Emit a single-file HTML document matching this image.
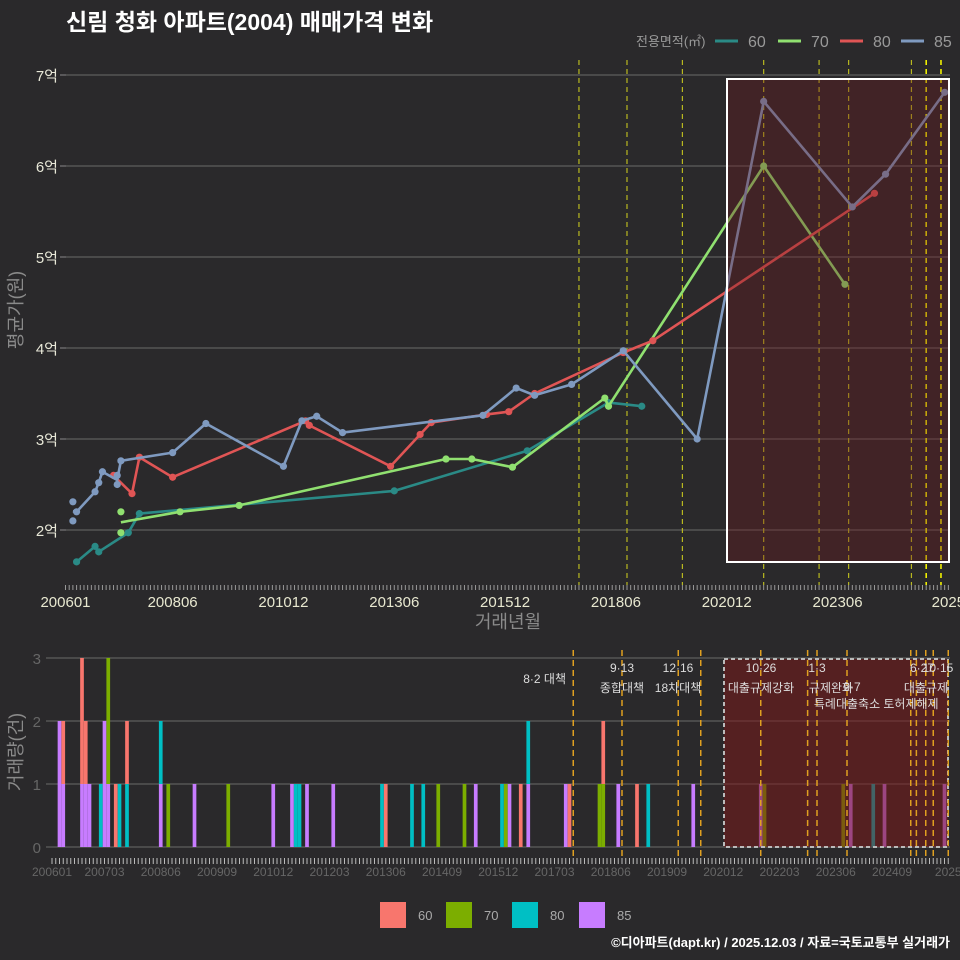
<!DOCTYPE html>
<html><head><meta charset="utf-8">
<style>
html,body{margin:0;padding:0;background:#2a292b;}
svg{display:block;font-family:"Liberation Sans","Noto Sans CJK KR",sans-serif;}
</style></head>
<body>
<svg id="chart" width="960" height="960" viewBox="0 0 960 960">
<rect x="0" y="0" width="960" height="960" fill="#2a292b"/>
<text x="66" y="30" font-size="23" font-weight="bold" fill="#ffffff">신림 청화 아파트(2004) 매매가격 변화</text>
<g id="legendTop">
<text x="636" y="46" font-size="13" fill="#999">전용면적(㎡)</text>
</g>
<g id="top"></g>
<g id="bottom"></g>
<g id="legendBottom"></g>
<text x="950" y="947" font-size="13" font-weight="bold" fill="#ffffff" text-anchor="end">©디아파트(dapt.kr) / 2025.12.03 / 자료=국토교통부 실거래가</text>
</svg>
<script>
// ---- price chart data (months since 2006-01, price in 억) ----
const s60Months=[3,8,9,17,20,89,125,147,156];
const s60Values=[1.65,1.82,1.76,1.97,2.18,2.43,2.87,3.4,3.36];
const s70Months=[15,15,31,47,103,110,121,146,147,189,211];
const s70Values=[2.2,1.97,2.2,2.27,2.78,2.78,2.69,3.45,3.36,6.0,4.7];
const s80Months=[13,18,20,29,65,66,88,96,99,114,120,127,151,159,219];
const s80Values=[2.6,2.4,2.8,2.58,3.2,3.15,2.7,3.05,3.18,3.27,3.3,3.5,3.95,4.08,5.7];
const s85Months=[2,2,3,8,9,10,14,14,15,29,38,59,64,68,75,113,122,127,137,151,171,189,213,222,238];
const s85Values=[2.31,2.10,2.2,2.42,2.52,2.64,2.6,2.5,2.76,2.85,3.17,2.7,3.2,3.25,3.07,3.26,3.56,3.48,3.6,3.97,3.0,6.71,5.55,5.91,6.81];
const seriesNames=["60","70","80","85"];
const yTicks=[2,3,4,5,6,7];
const yTickLabels=["2억","3억","4억","5억","6억","7억"];
const topXTicks=[0,29,59,89,119,149,179,209,239];
const topXLabels=["200601","200806","201012","201306","201512","201806","202012","202306","2025"];
const topPolicyMonths=[139,152,167,189,204,212,229,233,237];
// ---- volume chart data ----
const b60Months=[3,8,9,17,20,89,125,138,147,156];
const b60Counts=[1,2,1,1,1,1,1,1,1,1];
const b70Months=[15,31,47,103,110,121,146,147,190,211];
const b70Counts=[2,1,1,1,1,1,1,1,1,1];
const b80Months=[13,18,20,29,65,66,88,96,99,120,127,159,219];
const b80Counts=[1,1,1,1,1,1,1,1,1,1,1,1,1];
const b85Months=[2,3,8,9,10,14,15,29,38,59,64,68,75,113,122,127,137,151,171,189,213,222,238];
const b85Counts=[2,1,1,1,1,2,1,1,1,1,1,1,1,1,1,1,1,1,1,1,1,1,1];
const volYTicks=[0,1,2,3];
const botXTicks=[0,14,29,44,59,74,89,104,119,134,149,164,179,194,209,224,239];
const botXLabels=["200601","200703","200806","200909","201012","201203","201306","201409","201512","201703","201806","201909","202012","202203","202306","202409","2025"];
const botPolicyMonths=[139,152,167,173,189,201.5,204,212,229,230.5,233,235,239];

const NS="http://www.w3.org/2000/svg";
function mk(tag,attrs,parent,text){const e=document.createElementNS(NS,tag);for(const k in attrs)e.setAttribute(k,attrs[k]);if(text!==undefined)e.textContent=text;parent.appendChild(e);return e;}
const topG=document.getElementById('top');
const botG=document.getElementById('bottom');
const lineColors=["#2a8a86","#90e070","#e05555","#7f9ac0"];
const barColors=["#f8766d","#7cae00","#00bfc4","#c77cff"];

// axis functions
const tx=m=>65.5+m*3.694;
const ty=v=>530-(v-2)*91;
const bx=m=>52+m*3.75;
const by=c=>847-c*63;

// ---- top panel ----
yTicks.forEach((t,i)=>{
  let l=mk('line',{x1:66,x2:950,y1:ty(t),y2:ty(t),stroke:'#6a6a6a','stroke-width':1},topG);
  
  let k=mk('line',{x1:60,x2:66,y1:ty(t),y2:ty(t),stroke:'#888'},topG);
  
  let tt=mk('text',{x:58,y:ty(t)+6,'font-size':15,fill:'#e8e8d8','text-anchor':'end'},topG,yTickLabels[i]);
  
});
for(let m=0;m<=239;m++){
  let k=mk('line',{x1:tx(m),x2:tx(m),y1:585,y2:590,stroke:'#999','stroke-width':1},topG);
  
}
topXTicks.forEach((m,i)=>{
  let t=mk('text',{x:tx(m),y:607,'font-size':15,fill:'#e8e8d0','text-anchor':'middle'},topG,topXLabels[i]);
  
});
let xt=mk('text',{x:508,y:628,'font-size':18,fill:'#8a8a8a','text-anchor':'middle'},topG,'거래년월');

let yt=mk('text',{x:0,y:0,'font-size':18,fill:'#8a8a8a','text-anchor':'middle',transform:'translate(22,310) rotate(-90)'},topG,'평균가(원)');


topPolicyMonths.forEach((m,i)=>{
  const bright=i>=7;
  let l=mk('line',{x1:tx(m),x2:tx(m),y1:60,y2:585,stroke:bright?'#f0f000':'#b8b820','stroke-width':bright?1.6:1.2,'stroke-dasharray':'5,4'},topG);
  
});

const allM=[s60Months,s70Months,s80Months,s85Months];
const allV=[s60Values,s70Values,s80Values,s85Values];
allM.forEach((ms,si)=>{
  const vs=allV[si];
  const agg={};
  ms.forEach((m,i)=>{(agg[m]=agg[m]||[]).push(vs[i]);});
  const keys=Object.keys(agg).map(Number).sort((a,b)=>a-b);
  const pts=keys.map(k=>{const a=agg[k];return tx(k).toFixed(1)+','+ty(a.reduce((s,x)=>s+x,0)/a.length).toFixed(1);}).join(' ');
  let pl=mk('polyline',{points:pts,fill:'none',stroke:lineColors[si],'stroke-width':2.6,'stroke-linejoin':'round'},topG);
  
  ms.forEach((m,i)=>{
    let c=mk('circle',{cx:tx(m),cy:ty(vs[i]),r:3.6,fill:lineColors[si]},topG);
    
  });
});
let hr=mk('rect',{x:727,y:79,width:222,height:483,fill:'rgba(110,25,30,0.35)',stroke:'#ffffff','stroke-width':2},topG);


// top legend
const lg=document.getElementById('legendTop');
const legX=[715,778,840,901];
seriesNames.forEach((n,i)=>{
  let l=mk('line',{x1:legX[i],x2:legX[i]+23,y1:41,y2:41,stroke:lineColors[i],'stroke-width':3},lg);
  
  let t=mk('text',{x:legX[i]+33,y:47,'font-size':16,fill:'#999'},lg,n);
  
});

// ---- bottom panel ----
volYTicks.forEach(t=>{
  let l=mk('line',{x1:46,x2:950,y1:by(t),y2:by(t),stroke:'#6a6a6a','stroke-width':1},botG);
  
  let tt=mk('text',{x:41,y:by(t)+6,'font-size':15,fill:'#666','text-anchor':'end'},botG,String(t));
  
});
let vyt=mk('text',{x:0,y:0,'font-size':18,fill:'#8a8a8a','text-anchor':'middle',transform:'translate(22,752) rotate(-90)'},botG,'거래량(건)');


const stack={};
const bM=[b85Months,b80Months,b70Months,b60Months];
const bC=[b85Counts,b80Counts,b70Counts,b60Counts];
const bCol=[barColors[3],barColors[2],barColors[1],barColors[0]];
const bName=["85","80","70","60"];
bM.forEach((ms,si)=>{
  ms.forEach((m,i)=>{
    const base=stack[m]||0;const c=bC[si][i];
    let r=mk('rect',{x:bx(m)-1.85,y:by(base+c),width:3.7,height:by(base)-by(base+c),fill:bCol[si]},botG);
    
    stack[m]=base+c;
  });
});
let br=mk('rect',{x:724,y:659,width:224,height:188,fill:'rgba(120,25,25,0.55)',stroke:'#bbbbbb','stroke-width':2,'stroke-dasharray':'4,3'},botG);

botPolicyMonths.forEach(m=>{
  let l=mk('line',{x1:bx(m),x2:bx(m),y1:650,y2:858,stroke:'#e0a020','stroke-width':1.5,'stroke-dasharray':'6,4'},botG);
  
});
for(let m=0;m<=239;m++){
  let k=mk('line',{x1:bx(m),x2:bx(m),y1:858,y2:864,stroke:'#bbb','stroke-width':1},botG);
  
}
botXTicks.forEach((m,i)=>{
  let t=mk('text',{x:bx(m),y:876,'font-size':12,fill:'#666','text-anchor':'middle'},botG,botXLabels[i]);
  
});
const notes=[["8·2 대책",566,683,"end"],["9·13",622,672,"middle"],["종합대책",622,692,"middle"],["12·16",678,672,"middle"],["18차대책",678,692,"middle"],
["10·26",761,672,"middle"],["대출규제강화",761,692,"middle"],["1·3",817,672,"middle"],["규제완화",831,692,"middle"],["9·7",852,691,"middle"],
["특례대출축소",847,708,"middle"],["토허제해제",911,708,"middle"],["6·27",922,672,"middle"],["10·15",938,672,"middle"],["대출규제",926,692,"middle"]];
notes.forEach(n=>{
  let t=mk('text',{x:n[1],y:n[2],'font-size':12,fill:'#dddddd','text-anchor':n[3]},botG,n[0]);
  
});

// bottom legend
const lb=document.getElementById('legendBottom');
const lbx=[380,446,512,579];
["60","70","80","85"].forEach((n,i)=>{
  let r=mk('rect',{x:lbx[i],y:902,width:26,height:26,fill:barColors[i]},lb);
  
  let t=mk('text',{x:lbx[i]+38,y:920,'font-size':13,fill:'#aaa'},lb,n);
  
});
</script>
</body></html>
